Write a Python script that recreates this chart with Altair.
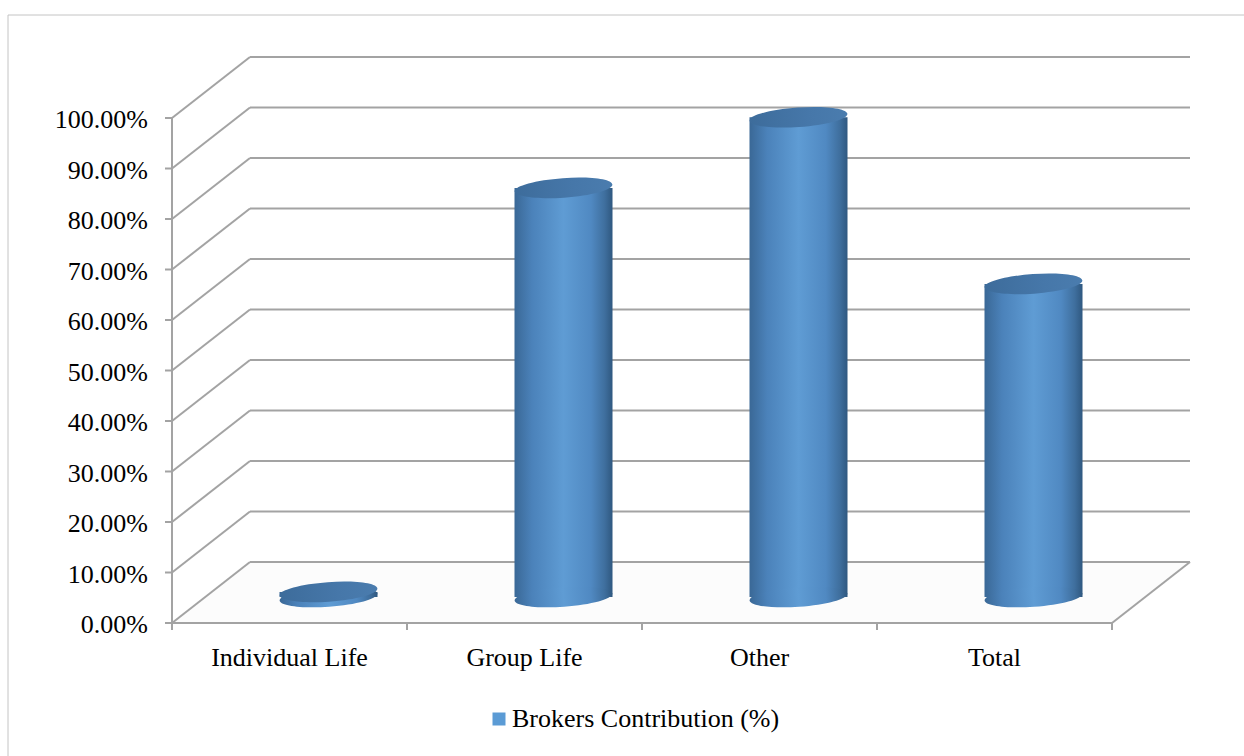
import altair as alt
import pandas as pd

# ---- data -------------------------------------------------------------
categories = ["Individual Life", "Group Life", "Other", "Total"]
contribution = [1.0, 81.0, 95.0, 62.0]          # percent
tick_values = [0, 10, 20, 30, 40, 50, 60, 70, 80, 90, 100]
series_name = "Brokers Contribution (%)"

# ---- geometry of the pseudo-3D box (pixels) ---------------------------
PX_X = 235.0          # pixels per category slot
PX_Y = 5.05           # pixels per percentage point
DEPTH_X = 78.0        # horizontal shift from front edge to back wall
DEPTH_Y = 61.0        # vertical shift from front edge to back wall
N = len(categories)
DX = DEPTH_X / PX_X
DY = DEPTH_Y / PX_Y
X_MAX = N + DX
Y_MAX = 100 + DY
W = round(X_MAX * PX_X)
H = round(Y_MAX * PX_Y)

BASE = 26 / PX_Y      # cylinders stand half-way into the box
HALF = 49 / PX_X      # cylinder radius in category units
CYL_PX = 98           # cylinder diameter in pixels
GRID = "#a3a3a3"
FONT = "Liberation Serif"

xs = alt.Scale(domain=[0, X_MAX], nice=False, zero=False)
ys = alt.Scale(domain=[0, Y_MAX], nice=False, zero=False)

# ---- wall / floor lines -----------------------------------------------
seg = []
for v in tick_values:
    seg.append(dict(x=0.0, y=v, x2=DX, y2=v + DY))           # side wall
    seg.append(dict(x=DX, y=v + DY, x2=X_MAX, y2=v + DY))     # back wall
seg.append(dict(x=0.0, y=0.0, x2=float(N), y2=0.0))           # floor front edge
seg.append(dict(x=float(N), y=0.0, x2=X_MAX, y2=DY))          # floor right edge
seg.append(dict(x=0.0, y=0.0, x2=0.0, y2=100.0))              # value axis
seg.extend(dict(x=-7 / PX_X, y=v, x2=0.0, y2=v) for v in tick_values)
seg.extend(dict(x=float(k), y=0.0, x2=float(k), y2=-7 / PX_Y) for k in range(N + 1))
seg_df = pd.DataFrame(seg)

lines = alt.Chart(seg_df).mark_rule(color=GRID, strokeWidth=2).encode(
    x=alt.X("x:Q", scale=xs, axis=None),
    y=alt.Y("y:Q", scale=ys, axis=None),
    x2="x2:Q",
    y2="y2:Q",
)

# faint floor shading
floor_df = pd.DataFrame({
    "x": [0.0, float(N), X_MAX, DX, 0.0],
    "y": [0.0, 0.0, DY, DY, 0.0],
    "o": [0, 1, 2, 3, 4],
})
floor = alt.Chart(floor_df).mark_line(
    filled=True, fill="#fcfcfc", strokeWidth=0
).encode(
    x=alt.X("x:Q", scale=xs, axis=None),
    y=alt.Y("y:Q", scale=ys, axis=None),
    order="o:Q",
)

# ---- tick labels --------------------------------------------------------
ytick_df = pd.DataFrame({"v": tick_values, "label": [f"{v:.2f}%" for v in tick_values]})
ylabels = alt.Chart(ytick_df).mark_text(
    align="right", baseline="middle", dx=-24, dy=2, font=FONT, fontSize=26, color="black"
).encode(
    x=alt.X("zero:Q", scale=xs, axis=None),
    y=alt.Y("v:Q", scale=ys, axis=None),
    text="label:N",
).transform_calculate(zero="0")

cyl = pd.DataFrame({"category": categories, "value": contribution})
cyl["i"] = range(N)
cyl["cx"] = cyl["i"] + 0.5 + DX / 2
cyl["x1"] = cyl["cx"] - HALF
cyl["x2"] = cyl["cx"] + HALF
cyl["base"] = BASE
cyl["top"] = BASE + cyl["value"]
cyl["mid"] = cyl["i"] + 0.5
cyl["zero"] = 0.0
cyl["series"] = series_name

xlabels = alt.Chart(cyl).mark_text(
    align="center", baseline="alphabetic", dy=43, font=FONT, fontSize=26, color="black"
).encode(
    x=alt.X("mid:Q", scale=xs, axis=None),
    y=alt.Y("zero:Q", scale=ys, axis=None),
    text="category:N",
)

# ---- cylinders ----------------------------------------------------------
side_fill = alt.LinearGradient(
    gradient="linear", x1=0, y1=0, x2=1, y2=0,
    stops=[
        alt.GradientStop(color="#3a6896", offset=0.0),
        alt.GradientStop(color="#4b82ba", offset=0.18),
        alt.GradientStop(color="#5f9cd4", offset=0.5),
        alt.GradientStop(color="#5089c2", offset=0.78),
        alt.GradientStop(color="#3f6f9e", offset=0.92),
        alt.GradientStop(color="#2f5880", offset=1.0),
    ],
)
top_fill = alt.LinearGradient(
    gradient="linear", x1=0, y1=0, x2=1, y2=0,
    stops=[
        alt.GradientStop(color="#3d6c9b", offset=0.0),
        alt.GradientStop(color="#4677a9", offset=0.6),
        alt.GradientStop(color="#4a7cae", offset=1.0),
    ],
)

k = 0.2 * 0.5523
ELLIPSE = (
    f"M -1 0 C -1 {-k} -0.5523 -0.2 0 -0.2 "
    f"C 0.5523 -0.2 1 {-k} 1 0 "
    f"C 1 {k} 0.5523 0.2 0 0.2 "
    f"C -0.5523 0.2 -1 {k} -1 0 Z"
)

body = alt.Chart(cyl).mark_rect(fill=side_fill, strokeWidth=0).encode(
    x=alt.X("x1:Q", scale=xs, axis=None),
    x2="x2:Q",
    y=alt.Y("base:Q", scale=ys, axis=None),
    y2="top:Q",
)
bottom_cap = alt.Chart(cyl).mark_point(
    shape=ELLIPSE, size=CYL_PX ** 2, filled=True, fill=side_fill,
    opacity=1, strokeWidth=0, angle=356,
).encode(
    x=alt.X("cx:Q", scale=xs, axis=None),
    y=alt.Y("base:Q", scale=ys, axis=None),
)
top_cap = alt.Chart(cyl).mark_point(
    shape=ELLIPSE, size=CYL_PX ** 2, filled=True, fill=top_fill,
    opacity=1, strokeWidth=0, angle=356,
).encode(
    x=alt.X("cx:Q", scale=xs, axis=None),
    y=alt.Y("top:Q", scale=ys, axis=None),
)

# legend carrier (invisible marks, visible legend)
legend_layer = alt.Chart(cyl).mark_square(opacity=0, size=1).encode(
    x=alt.X("cx:Q", scale=xs, axis=None),
    y=alt.Y("base:Q", scale=ys, axis=None),
    color=alt.Color(
        "series:N",
        scale=alt.Scale(domain=[series_name], range=["#5b9bd5"]),
        legend=alt.Legend(
            title=None, orient="none", legendX=314, legendY=649,
            symbolType="square", symbolSize=169, symbolOpacity=1,
            symbolStrokeWidth=0, labelFont=FONT, labelFontSize=26,
            labelColor="black", labelOffset=0, padding=0, labelLimit=0,
        ),
    ),
)

# outer frame
frame_src = alt.Data(values=[{"a": 1}])
frame_left = alt.Chart(frame_src).mark_rule(color="#c4c4c4", strokeWidth=1).encode(
    x=alt.value(-164), y=alt.value(-42), y2=alt.value(720)
)
frame_top = alt.Chart(frame_src).mark_rule(color="#c4c4c4", strokeWidth=1).encode(
    x=alt.value(-164), x2=alt.value(1080), y=alt.value(-42)
)

chart = alt.layer(
    frame_left, frame_top, floor, lines, body, bottom_cap, top_cap,
    ylabels, xlabels, legend_layer,
).properties(
    width=W,
    height=H,
    autosize=alt.AutoSizeParams(type="none"),
    padding={"left": 172, "top": 57, "right": 1244 - 172 - W, "bottom": 756 - 57 - H},
    background="white",
).configure_view(stroke=None)

chart.save("out.html", embed_options={"renderer": "svg", "actions": False})
